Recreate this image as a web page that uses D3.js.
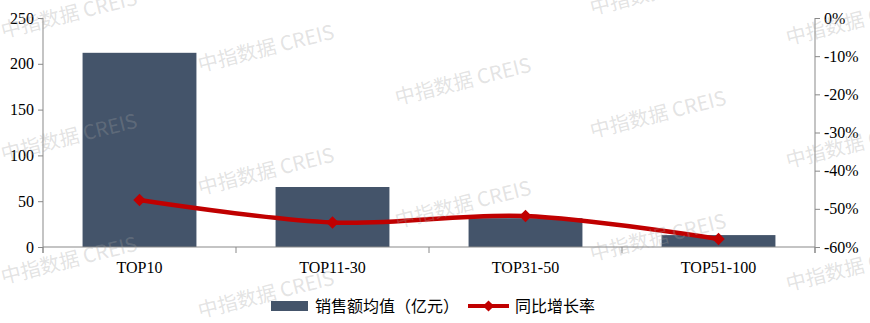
<!DOCTYPE html>
<html>
<head>
<meta charset="utf-8">
<script src="https://cdn.jsdelivr.net/npm/d3@7"></script>
<style>
  html, body { margin: 0; padding: 0; background: #fff; }
  svg { display: block; }
</style>
</head>
<body>
<svg id="chart" width="870" height="323"></svg>
<script>
// dados
const categories = ["TOP10", "TOP11-30", "TOP31-50", "TOP51-100"];
const avgSales = [212, 65.5, 31.5, 13];          // 销售额均值（亿元）
const yoyGrowth = [-47.7, -53.6, -51.9, -57.9];   // 同比增长率 (%)
const leftTicks = [0, 50, 100, 150, 200, 250];
const rightTicks = [0, -10, -20, -30, -40, -50, -60];

const width = 870;
const height = 323;
const margin = {top: 18, right: 55, bottom: 76, left: 43};

const barColor = "#44546A";
const lineColor = "#C00000";
const axisColor = "#898989";
const serif = "'Liberation Serif', 'Times New Roman', serif";
const cjk = "'Noto Sans CJK SC', 'Noto Sans', sans-serif";

const svg = d3.select("#chart");

const x = d3.scaleBand()
  .domain(categories)
  .range([margin.left, width - margin.right])
  .paddingInner(0.41)
  .paddingOuter(0.205);

const yLeft = d3.scaleLinear().domain([0, 250]).range([height - margin.bottom, margin.top]);
const yRight = d3.scaleLinear().domain([-60, 0]).range([height - margin.bottom, margin.top]);

// marca d'água, desenhada por cima de tudo, bem clara
function drawWatermark(layer) {
  const colX = [3, 200, 397, 592, 788];
  const colY0 = [38, 72, 105, 15, 45];
  colX.forEach((cx, c) => {
    for (let k = -1; k < 4; k++) {
      const cy = colY0[c] + k * 123;
      if (cy < -10 || cy > 345) continue;
      layer.append("text")
        .attr("transform", `translate(${cx},${cy}) rotate(-14)`)
        .attr("font-family", cjk)
        .attr("font-weight", 400)
        .attr("font-size", 20)
        .attr("fill", "#a0a0a0")
        .attr("fill-opacity", 0.3)
        .text("中指数据 CREIS");
    }
  });
}

// barras
svg.append("g")
  .selectAll("rect")
  .data(avgSales)
  .join("rect")
  .attr("x", (d, i) => x(categories[i]))
  .attr("y", d => yLeft(d))
  .attr("width", x.bandwidth())
  .attr("height", d => yLeft(0) - yLeft(d))
  .attr("fill", barColor);

// eixo esquerdo
const leftAxis = svg.append("g")
  .attr("transform", `translate(${margin.left},0)`)
  .call(d3.axisLeft(yLeft).tickValues(leftTicks).tickSize(5).tickPadding(4).tickSizeOuter(0));

// eixo direito
const rightAxis = svg.append("g")
  .attr("transform", `translate(${width - margin.right},0)`)
  .call(d3.axisRight(yRight).tickValues(rightTicks).tickSize(5).tickPadding(4)
    .tickSizeOuter(0).tickFormat(d => d + "%"));

// eixo x com marcas nos limites das categorias
const step = x.step();
const bounds = d3.range(categories.length + 1).map(i => margin.left + i * step);
const xAxis = svg.append("g");
xAxis.append("line")
  .attr("x1", margin.left).attr("x2", width - margin.right)
  .attr("y1", yLeft(0)).attr("y2", yLeft(0));
xAxis.selectAll("line.tick")
  .data(bounds)
  .join("line")
  .attr("class", "tick")
  .attr("x1", d => d).attr("x2", d => d)
  .attr("y1", yLeft(0)).attr("y2", yLeft(0) + 6);
xAxis.selectAll("line").attr("stroke", axisColor).attr("stroke-width", 1);
xAxis.selectAll("text")
  .data(categories)
  .join("text")
  .attr("x", d => x(d) + x.bandwidth() / 2)
  .attr("y", yLeft(0) + 26)
  .attr("text-anchor", "middle")
  .attr("font-family", serif)
  .attr("font-size", 16)
  .attr("fill", "#000")
  .text(d => d);

[leftAxis, rightAxis].forEach(g => {
  g.select(".domain").attr("stroke", axisColor);
  g.selectAll(".tick line").attr("stroke", axisColor);
  g.selectAll("text").attr("font-family", serif).attr("font-size", 16).attr("fill", "#000");
});
// eixos verticais descem até a marca do eixo x
leftAxis.select(".domain").attr("d", `M0,${margin.top}V${yLeft(0) + 6}`);
rightAxis.select(".domain").attr("d", `M0,${margin.top}V${yLeft(0) + 6}`);

// linha suavizada
const pts = yoyGrowth.map((v, i) => [x(categories[i]) + x.bandwidth() / 2, yRight(v)]);
svg.append("path")
  .datum(pts)
  .attr("fill", "none")
  .attr("stroke", lineColor)
  .attr("stroke-width", 4.5)
  .attr("stroke-linecap", "round")
  .attr("d", d3.line().curve(d3.curveCatmullRom.alpha(0.5)));

const diamond = d3.symbol().type(d3.symbolDiamond2).size(100);
svg.append("g")
  .selectAll("path")
  .data(pts)
  .join("path")
  .attr("transform", d => `translate(${d[0]},${d[1]})`)
  .attr("d", diamond)
  .attr("fill", lineColor);

// legenda
const legend = svg.append("g");
legend.append("rect")
  .attr("x", 271).attr("y", 301).attr("width", 37).attr("height", 10)
  .attr("fill", barColor);
legend.append("text")
  .attr("x", 315).attr("y", 312)
  .attr("font-family", cjk).attr("font-size", 16).attr("fill", "#000")
  .text("销售额均值（亿元）");
legend.append("line")
  .attr("x1", 468).attr("x2", 509).attr("y1", 306).attr("y2", 306)
  .attr("stroke", lineColor).attr("stroke-width", 4);
legend.append("path")
  .attr("transform", "translate(488.5,306)")
  .attr("d", d3.symbol().type(d3.symbolDiamond2).size(80))
  .attr("fill", lineColor);
legend.append("text")
  .attr("x", 515).attr("y", 312)
  .attr("font-family", cjk).attr("font-size", 16).attr("fill", "#000")
  .text("同比增长率");

drawWatermark(svg.append("g").attr("pointer-events", "none"));
</script>
</body>
</html>
